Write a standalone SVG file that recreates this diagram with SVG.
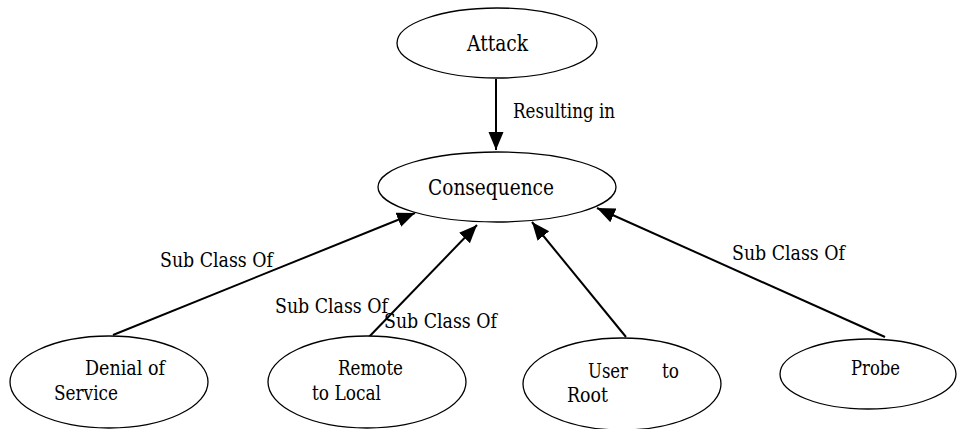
<svg xmlns="http://www.w3.org/2000/svg" width="967" height="429" viewBox="0 0 967 429">
<style>
.n{fill:#fff;stroke:#000;stroke-width:1.3}
.t{font-family:"DejaVu Serif","Liberation Serif",serif;font-size:20.5px;fill:#000}
.big{font-size:22px}
.e{stroke:#000;stroke-width:2;fill:none;marker-end:url(#ah)}
</style>
<defs>
<marker id="ah" markerUnits="userSpaceOnUse" markerWidth="19" markerHeight="17" refX="18" refY="7.5" orient="auto">
<path d="M0,0 L18,7.5 L0,15 z" fill="#000"/>
</marker>
</defs>
<g id="connectors">
<line class="e" x1="496" y1="79" x2="496" y2="150"/>
<text class="t" x="513" y="118" textLength="102" lengthAdjust="spacingAndGlyphs">Resulting in</text>
<line class="e" x1="113" y1="335" x2="415" y2="213"/>
<text class="t" x="160" y="267" textLength="113" lengthAdjust="spacingAndGlyphs">Sub Class Of</text>
<line class="e" x1="367" y1="339" x2="477" y2="225"/>
<text class="t" x="275" y="313" textLength="113" lengthAdjust="spacingAndGlyphs">Sub Class Of</text>
<line class="e" x1="626" y1="337" x2="532" y2="222"/>
<text class="t" x="384" y="328" textLength="113" lengthAdjust="spacingAndGlyphs">Sub Class Of</text>
<line class="e" x1="885" y1="337" x2="597" y2="208"/>
<text class="t" x="732" y="260" textLength="113" lengthAdjust="spacingAndGlyphs">Sub Class Of</text>
</g>
<g id="attack">
<ellipse class="n" cx="497" cy="43" rx="100" ry="35"/>
<text class="t big" x="467" y="51" textLength="61" lengthAdjust="spacingAndGlyphs">Attack</text>
</g>
<g id="consequence">
<ellipse class="n" cx="497" cy="187" rx="119" ry="35"/>
<text class="t big" x="428" y="195" textLength="126" lengthAdjust="spacingAndGlyphs">Consequence</text>
</g>
<g id="dos">
<ellipse class="n" cx="109" cy="382" rx="99" ry="46"/>
<text class="t" x="85" y="375" textLength="80" lengthAdjust="spacingAndGlyphs">Denial of</text>
<text class="t" x="54" y="400" textLength="64" lengthAdjust="spacingAndGlyphs">Service</text>
</g>
<g id="r2l">
<ellipse class="n" cx="367" cy="382" rx="99" ry="46"/>
<text class="t" x="338" y="375" textLength="65" lengthAdjust="spacingAndGlyphs">Remote</text>
<text class="t" x="312" y="400" textLength="69" lengthAdjust="spacingAndGlyphs">to Local</text>
</g>
<g id="u2r">
<ellipse class="n" cx="622" cy="384" rx="99" ry="46"/>
<text class="t" x="588" y="378" textLength="40" lengthAdjust="spacingAndGlyphs">User</text>
<text class="t" x="662" y="378" textLength="17" lengthAdjust="spacingAndGlyphs">to</text>
<text class="t" x="567" y="402" textLength="41" lengthAdjust="spacingAndGlyphs">Root</text>
</g>
<g id="probe">
<ellipse class="n" cx="868" cy="374" rx="88" ry="35"/>
<text class="t" x="851" y="375" textLength="49" lengthAdjust="spacingAndGlyphs">Probe</text>
</g>
</svg>
